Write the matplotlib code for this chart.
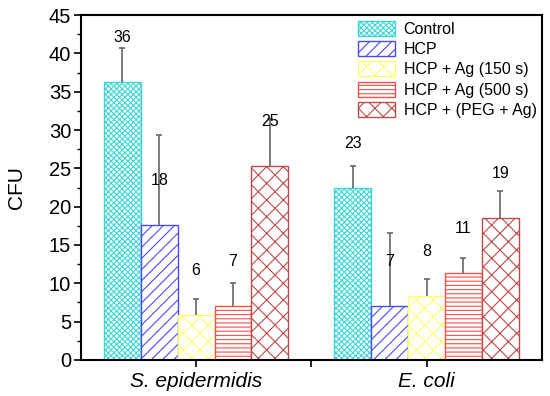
import matplotlib
matplotlib.use("Agg")
import matplotlib.pyplot as plt
import numpy as np
from matplotlib.ticker import MultipleLocator

plt.rcParams["font.family"] = ["Liberation Sans", "DejaVu Sans"]
plt.rcParams["hatch.linewidth"] = 0.8

grupos = ["S. epidermidis", "E. coli"]
series = ["Control", "HCP", "HCP + Ag (150 s)", "HCP + Ag (500 s)", "HCP + (PEG + Ag)"]
valores = {
    "Control": [36.3, 22.5],
    "HCP": [17.6, 7.0],
    "HCP + Ag (150 s)": [5.9, 8.4],
    "HCP + Ag (500 s)": [7.1, 11.3],
    "HCP + (PEG + Ag)": [25.3, 18.5],
}
errores = {
    "Control": [4.4, 2.8],
    "HCP": [11.8, 9.5],
    "HCP + Ag (150 s)": [2.0, 2.2],
    "HCP + Ag (500 s)": [2.9, 2.0],
    "HCP + (PEG + Ag)": [6.2, 3.5],
}
etiquetas = {
    "Control": ["36", "23"],
    "HCP": ["18", "7"],
    "HCP + Ag (150 s)": ["6", "8"],
    "HCP + Ag (500 s)": ["7", "11"],
    "HCP + (PEG + Ag)": ["25", "19"],
}

estilo = {
    "Control": {"color": "#3cd6d6", "hatch": "xxxxxx"},
    "HCP": {"color": "#4a4aff", "hatch": "///"},
    "HCP + Ag (150 s)": {"color": "#ffff70", "hatch": "xx"},
    "HCP + Ag (500 s)": {"color": "#ff4d4d", "hatch": "----"},
    "HCP + (PEG + Ag)": {"color": "#bf4a4a", "hatch": "xx"},
}

fig = plt.figure(figsize=(5.5, 3.96), dpi=100)
ax = fig.add_axes([0.147, 0.091, 0.838, 0.871])

centros = np.arange(1, len(grupos) + 1)
ancho = 0.16
for i, s in enumerate(series):
    x = centros + (i - 2) * ancho
    v = np.array(valores[s])
    e = np.array(errores[s])
    ax.bar(x, v, width=ancho, facecolor="white", edgecolor=estilo[s]["color"],
           hatch=estilo[s]["hatch"], linewidth=1.0, label=s, zorder=2)
    ax.vlines(x, v, v + e, color="#666666", linewidth=1.2, zorder=3)
    ax.plot(x, v + e, linestyle="none", marker="_", markersize=5,
            markeredgewidth=1.2, color="#666666", zorder=3)
    for xi, vi, t in zip(x, v, etiquetas[s]):
        ax.annotate(t, (xi, vi), xytext=(0, 32), textcoords="offset points",
                    ha="center", va="center", fontsize=11.5, zorder=4)

ax.set_xlim(0.5, 2.5)
ax.set_ylim(0, 45)
ax.set_xticks([1, 1.5, 2])
ax.set_xticklabels(["S. epidermidis", "", "E. coli"], fontsize=15, style="italic")
ax.yaxis.set_major_locator(MultipleLocator(5))
ax.yaxis.set_minor_locator(MultipleLocator(2.5))
ax.tick_params(axis="y", which="major", labelsize=14.5, length=5, width=1.2, pad=2)
ax.tick_params(axis="y", which="minor", length=3, width=1)
ax.tick_params(axis="x", which="major", length=5, width=1.2, pad=4)
ax.set_ylabel("CFU", fontsize=15)
ax.yaxis.set_label_coords(-0.12, 0.5)

for sp in ax.spines.values():
    sp.set_linewidth(1.5)

ax.legend(loc="upper left", bbox_to_anchor=(0.651, 0.947), bbox_transform=fig.transFigure,
          frameon=False, fontsize=11.5, handlelength=2.3, handleheight=1.06,
          labelspacing=0.27, handletextpad=0.56, borderpad=0, borderaxespad=0)

fig.savefig("out.png", dpi=100)
